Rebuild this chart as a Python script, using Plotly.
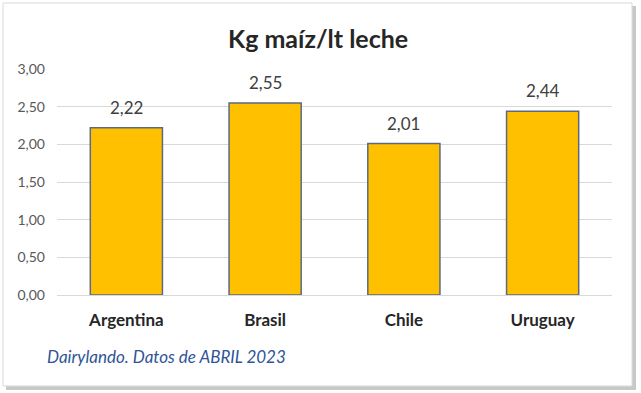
import plotly.graph_objects as go

categories = ["Argentina", "Brasil", "Chile", "Uruguay"]
values = [2.22, 2.55, 2.01, 2.44]
title_text = "Kg maíz/lt leche"
source_text = "Dairylando. Datos de ABRIL 2023"

W, H = 641, 393
L, R, T, B = 57, 29, 69, 98
pw = W - L - R
ph = H - T - B
FONT = "Lato, Open Sans, sans-serif"

def px_x(p):
    return (p - L) / pw

def px_y(p):
    return (H - B - p) / ph

fig = go.Figure()
fig.add_trace(go.Bar(
    x=categories, y=values,
    marker=dict(color="#FFC000", line=dict(color="#5B6A80", width=1.5)),
    width=0.52,
    hoverinfo="skip",
))

for c, v in zip(categories, values):
    fig.add_annotation(x=c, y=v, text=f"{v:.2f}".replace(".", ","), showarrow=False,
                       yanchor="bottom", yshift=8,
                       font=dict(family=FONT, size=17, color="#404040"))

# frame shadow and frame
fig.add_shape(type="rect", xref="paper", yref="paper",
              x0=px_x(6), x1=px_x(636), y0=px_y(6), y1=px_y(390),
              fillcolor="#C8C8C8", line=dict(width=0), layer="below")
fig.add_shape(type="rect", xref="paper", yref="paper",
              x0=px_x(3), x1=px_x(632), y0=px_y(3), y1=px_y(386),
              fillcolor="white", line=dict(color="#D9D9D9", width=1), layer="below")

fig.add_annotation(xref="paper", yref="paper", x=px_x(318), y=px_y(38),
                   text=f"<b>{title_text}</b>", showarrow=False,
                   xanchor="center", yanchor="middle",
                   font=dict(family=FONT, size=25, color="#262626"))
fig.add_annotation(xref="paper", yref="paper", x=px_x(45), y=px_y(356),
                   text=f"<i>{source_text}</i>", showarrow=False,
                   xanchor="left", yanchor="middle",
                   font=dict(family=FONT, size=17, color="#2F5597"))

fig.update_layout(
    width=W, height=H,
    margin=dict(l=L, r=R, t=T, b=B),
    paper_bgcolor="white", plot_bgcolor="rgba(0,0,0,0)",
    separators=",.",
    showlegend=False,
    bargap=0.48,
    xaxis=dict(showgrid=False, showline=True, linecolor="#D9D9D9", linewidth=1,
               ticks="", ticklabelstandoff=10,
               tickfont=dict(family=FONT, size=17, color="#262626", weight="bold")),
    yaxis=dict(range=[0, 3], dtick=0.5, tickformat=".2f", showgrid=True,
               gridcolor="#D9D9D9", gridwidth=1, zeroline=False, showline=False,
               ticks="", ticklabelstandoff=11,
               tickfont=dict(family=FONT, size=14, color="#595959")),
)

fig.write_html("out.html", config={"displayModeBar": False},
               post_script="document.body.style.margin='0';document.body.style.overflow='hidden';")
